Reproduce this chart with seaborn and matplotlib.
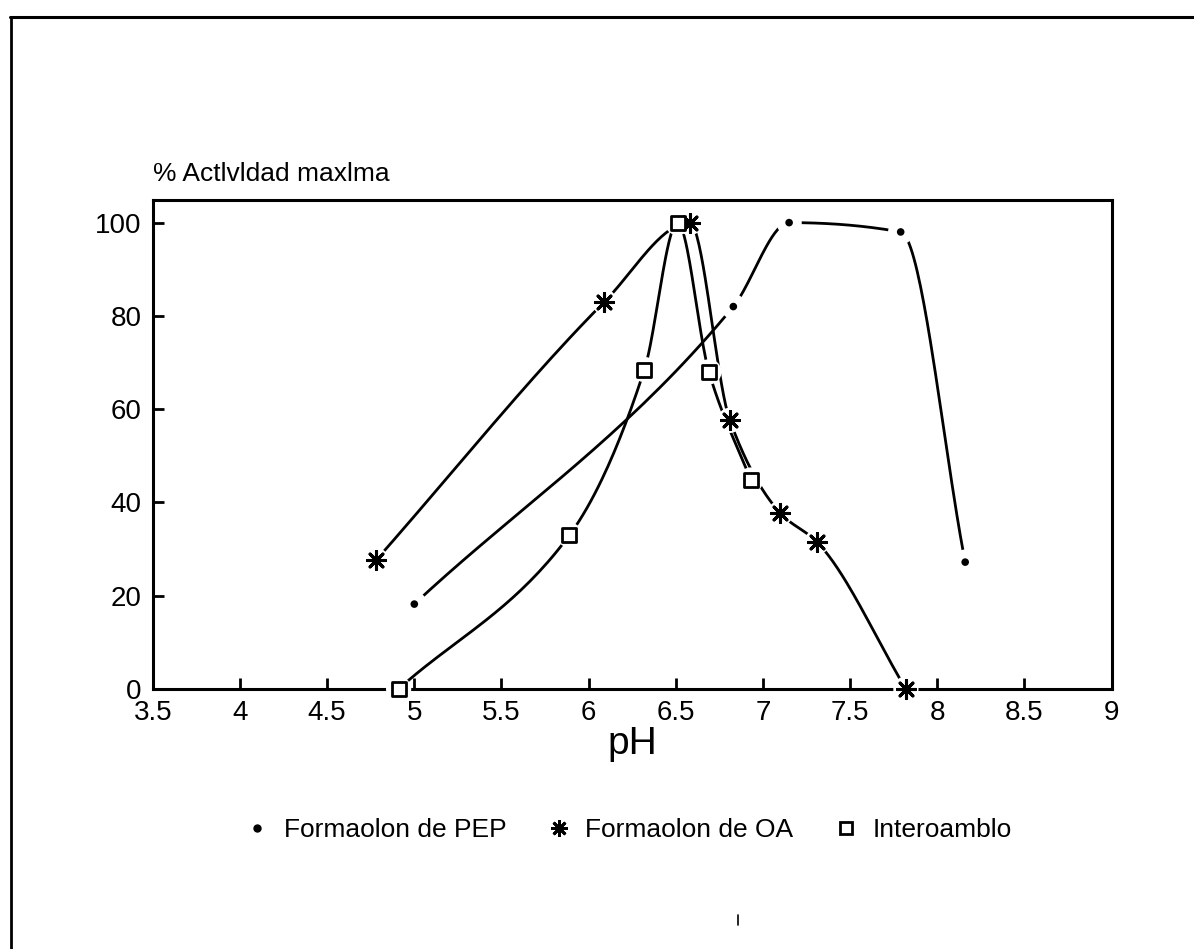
import numpy as np
import pandas as pd
import matplotlib
matplotlib.use("Agg")
import matplotlib.pyplot as plt
from matplotlib.lines import Line2D
import seaborn as sns

# ---- data ----
pep_ph = [5.00, 6.83, 7.15, 7.79, 8.16]
pep_val = [18.2, 82.0, 100.0, 98.0, 27.2]

oa_ph = [4.78, 6.09, 6.58, 6.81, 7.10, 7.31, 7.82]
oa_val = [27.6, 83.0, 100.0, 57.6, 37.7, 31.5, 0.0]

int_ph = [4.91, 5.89, 6.32, 6.51, 6.69, 6.93]
int_val = [0.0, 33.0, 68.5, 100.0, 68.0, 44.8]

series_names = ["Formaolon de PEP", "Formaolon de OA", "Interoamblo"]
x_ticks = [3.5, 4, 4.5, 5, 5.5, 6, 6.5, 7, 7.5, 8, 8.5, 9]
x_ticklabels = ["3.5", "4", "4.5", "5", "5.5", "6", "6.5", "7", "7.5", "8", "8.5", "9"]
y_ticks = [0, 20, 40, 60, 80, 100]
y_title = "% Actlvldad maxlma"
x_title = "pH"


def pchip(x, y, n=40):
    """Monotone cubic (Fritsch-Carlson) curve through the points, for drawing only."""
    x = np.asarray(x, float)
    y = np.asarray(y, float)
    h = np.diff(x)
    d = np.diff(y) / h
    m = np.zeros_like(y)
    for k in range(1, len(x) - 1):
        if d[k - 1] * d[k] > 0:
            w1 = 2 * h[k] + h[k - 1]
            w2 = h[k] + 2 * h[k - 1]
            m[k] = (w1 + w2) / (w1 / d[k - 1] + w2 / d[k])
    m[0] = d[0]
    m[-1] = d[-1]
    xs, ys = [], []
    for k in range(len(x) - 1):
        t = np.linspace(0, 1, n)
        if k > 0:
            t = t[1:]
        h00 = 2 * t ** 3 - 3 * t ** 2 + 1
        h10 = t ** 3 - 2 * t ** 2 + t
        h01 = -2 * t ** 3 + 3 * t ** 2
        h11 = t ** 3 - t ** 2
        xs.append(x[k] + t * h[k])
        ys.append(h00 * y[k] + h10 * h[k] * m[k] + h01 * y[k + 1] + h11 * h[k] * m[k + 1])
    return np.concatenate(xs), np.concatenate(ys)


sns.set_theme(style="white")
plt.rcParams["font.family"] = ["Liberation Sans", "DejaVu Sans"]
plt.rcParams["text.color"] = "black"

fig = plt.figure(figsize=(11.94, 9.49), dpi=100)
ax = fig.add_axes([0.128, 0.274, 0.803, 0.515])

curves = []
for name, xs, ys in zip(series_names, [pep_ph, oa_ph, int_ph], [pep_val, oa_val, int_val]):
    sx, sy = pchip(xs, ys)
    curves.append(pd.DataFrame({"pH": sx, "val": sy, "serie": name}))
curve_df = pd.concat(curves, ignore_index=True)

pts_df = pd.concat([
    pd.DataFrame({"pH": pep_ph, "val": pep_val, "serie": series_names[0]}),
    pd.DataFrame({"pH": oa_ph, "val": oa_val, "serie": series_names[1]}),
    pd.DataFrame({"pH": int_ph, "val": int_val, "serie": series_names[2]}),
], ignore_index=True)

for name in series_names:
    d = curve_df[curve_df["serie"] == name]
    sns.lineplot(data=d, x="pH", y="val", sort=False, estimator=None, color="black",
                 linewidth=2.0, ax=ax, zorder=2, legend=False)

# white halos for the gaps around the markers
sns.scatterplot(data=pts_df, x="pH", y="val", color="white", s=330, marker="o",
                edgecolor="none", ax=ax, zorder=3, legend=False, clip_on=False)

d = pts_df[pts_df["serie"] == series_names[0]]
sns.scatterplot(data=d, x="pH", y="val", color="black", s=30, marker="o",
                edgecolor="none", ax=ax, zorder=4, legend=False, clip_on=False)
d = pts_df[pts_df["serie"] == series_names[1]]
sns.scatterplot(data=d, x="pH", y="val", color="black", s=170, marker=(8, 2, 0),
                linewidth=2.2, ax=ax, zorder=4, legend=False, clip_on=False)
d = pts_df[pts_df["serie"] == series_names[2]]
sns.scatterplot(data=d, x="pH", y="val", facecolor="white", s=100, marker="s",
                edgecolor="black", linewidth=2.0, ax=ax, zorder=4, legend=False, clip_on=False)

ax.set_xlim(3.5, 9)
ax.set_ylim(0, 104.8)
ax.set_xticks(x_ticks)
ax.set_xticklabels(x_ticklabels)
ax.set_yticks(y_ticks)
ax.tick_params(direction="in", length=8, width=2, labelsize=20, colors="black",
               labelcolor="black", bottom=True, left=True, top=False, right=False, pad=8)
ax.set_xlabel(x_title, fontsize=28, labelpad=0, color="black")
ax.set_ylabel("")
for sp in ax.spines.values():
    sp.set_visible(True)
    sp.set_color("black")
    sp.set_linewidth(2.2)
ax.text(0.0, 1.03, y_title, transform=ax.transAxes, fontsize=19, ha="left", va="bottom",
        color="black")

handles = [
    Line2D([], [], linestyle="none", marker="o", markersize=5, color="black"),
    Line2D([], [], linestyle="none", marker=(8, 2, 0), markersize=12, color="black",
           markeredgewidth=2.0),
    Line2D([], [], linestyle="none", marker="s", markersize=9, markerfacecolor="white",
           markeredgecolor="black", markeredgewidth=2.0),
]
leg = fig.legend(handles, series_names, loc="center", bbox_to_anchor=(0.527, 0.125), ncol=3,
                 frameon=False, fontsize=19, handlelength=0.8, handletextpad=0.6,
                 columnspacing=1.6)
for t in leg.get_texts():
    t.set_color("black")

# outer frame lines of the scanned page
fig.add_artist(Line2D([0.008, 1.0], [0.982, 0.982], color="black", linewidth=2.2,
                      transform=fig.transFigure))
fig.add_artist(Line2D([0.009, 0.009], [0.0, 0.982], color="black", linewidth=2.0,
                      transform=fig.transFigure))
fig.add_artist(Line2D([0.618, 0.618], [0.025, 0.036], color="black", linewidth=1.2,
                      transform=fig.transFigure))

fig.savefig("out.png", dpi=100, facecolor="white")
